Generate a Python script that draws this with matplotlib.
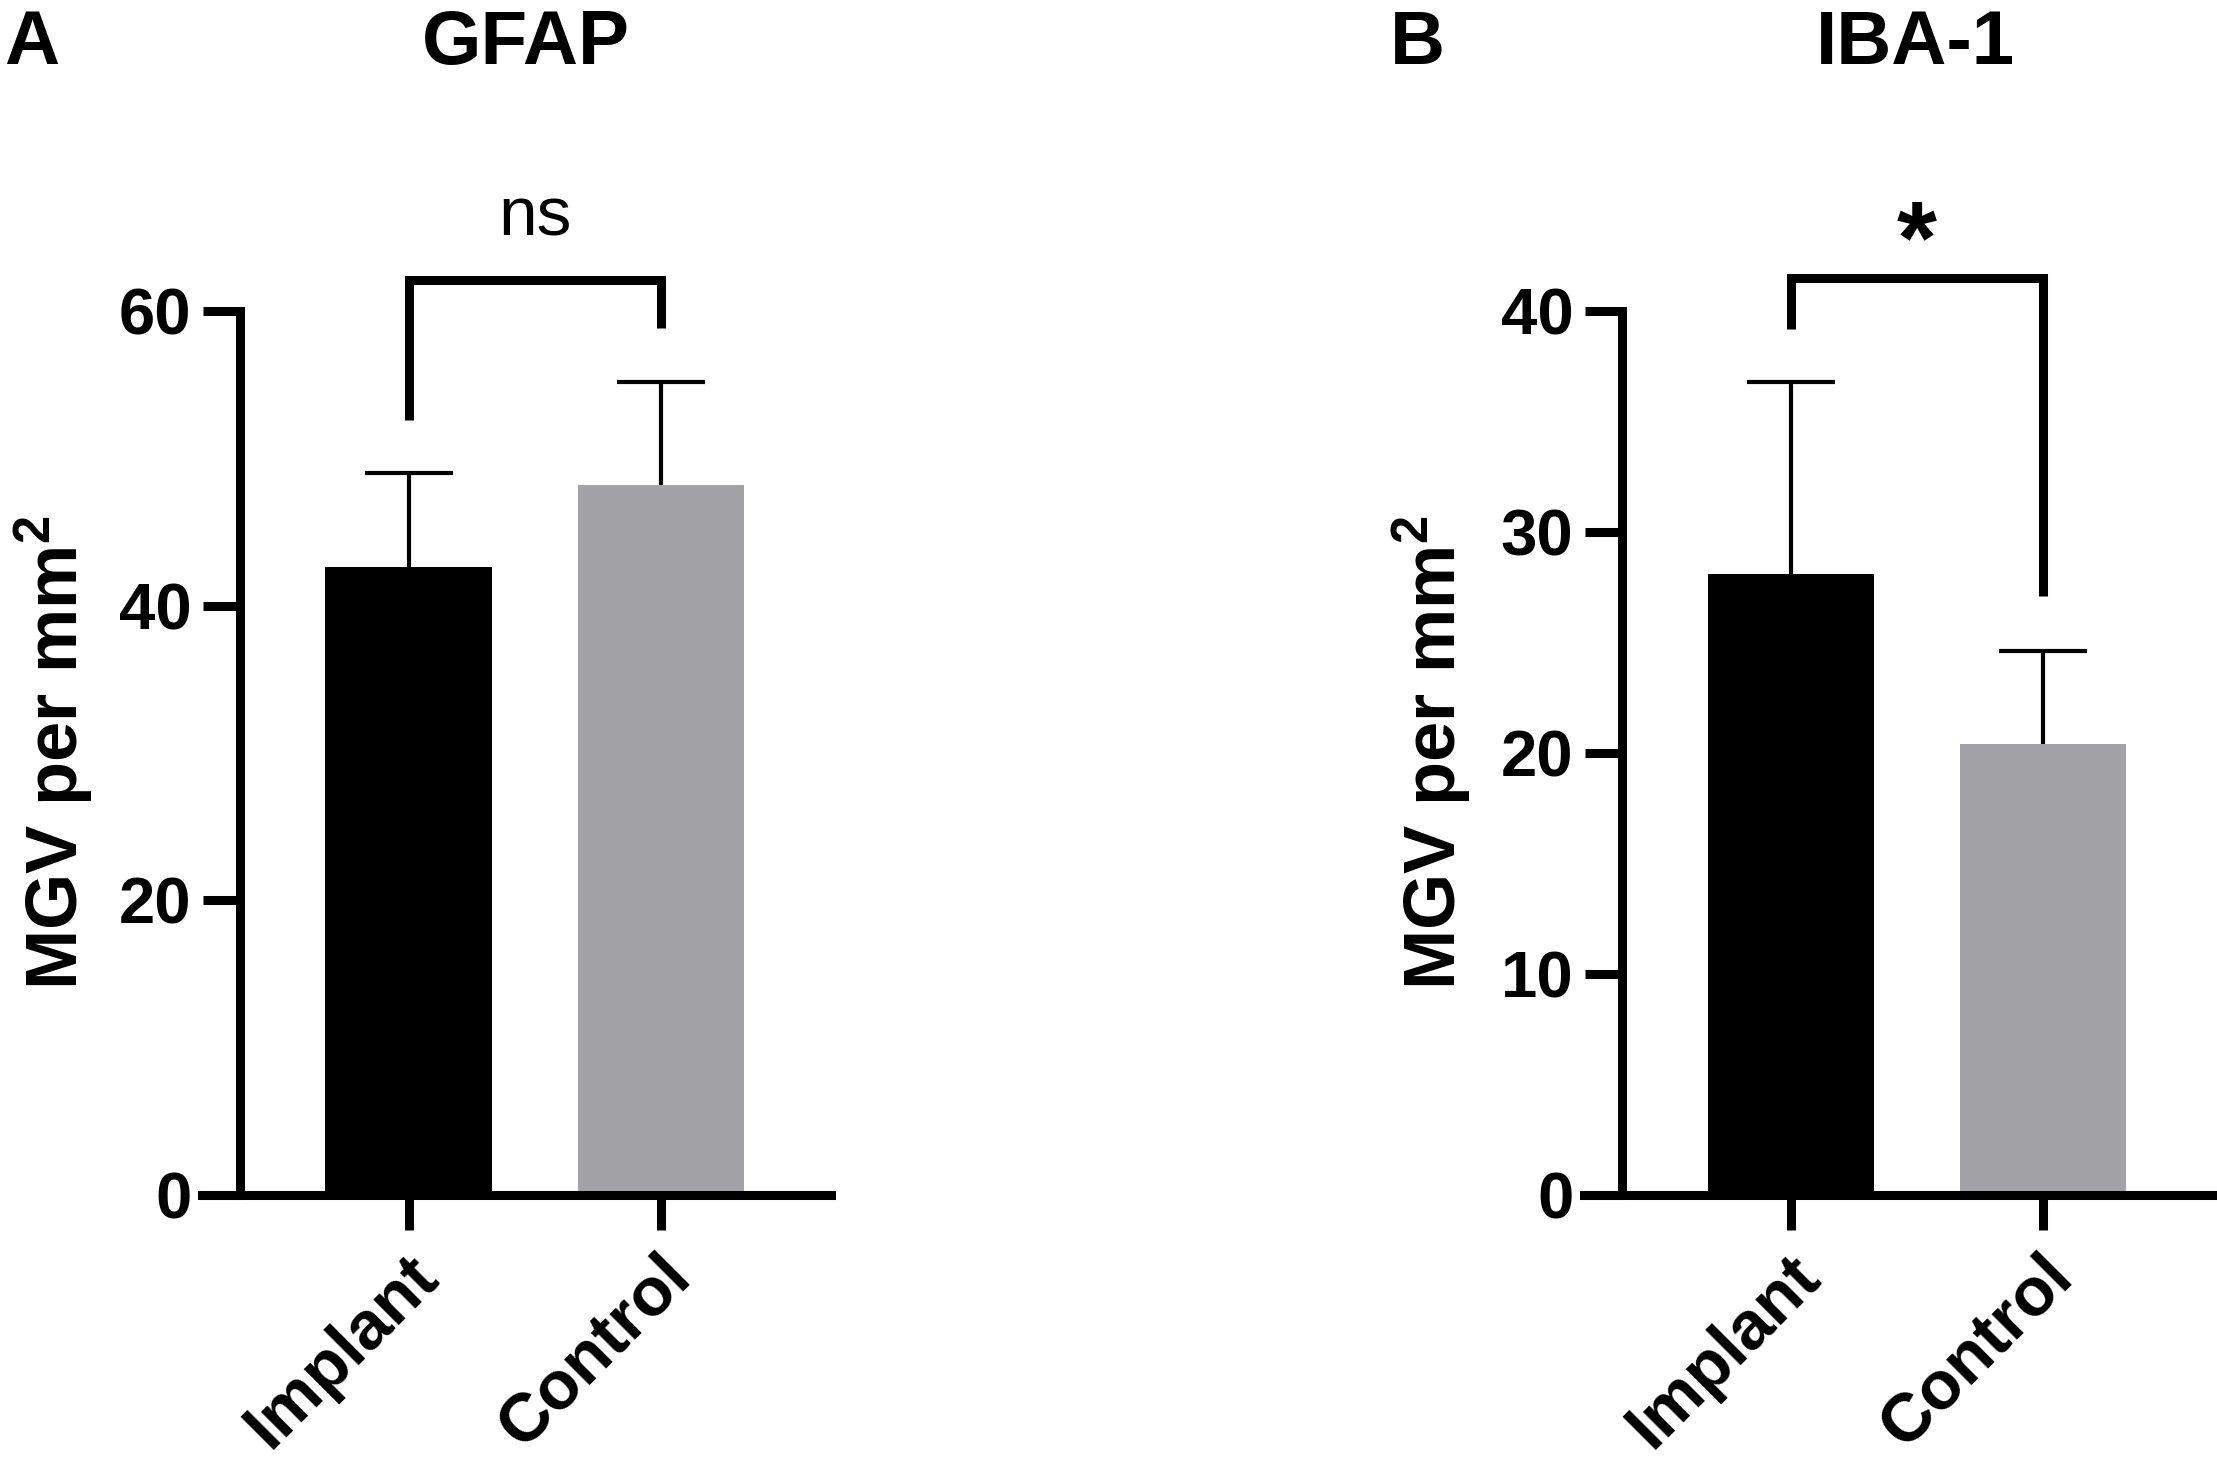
import matplotlib.pyplot as plt
import matplotlib.transforms as mtransforms

plt.rcParams['font.family'] = ['Liberation Sans', 'DejaVu Sans']
plt.rcParams['mathtext.fontset'] = 'custom'
plt.rcParams['mathtext.rm'] = 'Liberation Sans:bold'
plt.rcParams['mathtext.bf'] = 'Liberation Sans:bold'

# Values
categories = ['Implant', 'Control']
gfap_mean = [42.6, 48.2]
gfap_err = [6.4, 7.0]
iba_mean = [28.1, 20.4]
iba_err = [8.7, 4.2]

# Significance brackets: height of the bar, bottom of the two legs
gfap_bracket = 62.1
gfap_legs = [52.6, 58.85]
iba_bracket = 41.5
iba_legs = [39.2, 27.1]

bar_colors = ['black', '#a3a3a7']
LW = 6.5


def draw_panel(ax, means, errs, ymax, step, bracket, legs, sig, sig_kw):
    x = list(range(len(categories)))
    eb = ax.errorbar(x, means, yerr=[[0] * len(errs), errs], fmt='none',
                     ecolor='black', elinewidth=3, capsize=32, capthick=3,
                     zorder=1)
    # only the upper cap is wanted
    eb[1][0].set_visible(False)
    ax.bar(x, means, width=0.66, color=bar_colors, zorder=2)

    ax.set_xlim(-0.82, 1.675)
    ax.set_ylim(0, ymax)
    ax.spines['top'].set_visible(False)
    ax.spines['right'].set_visible(False)
    ax.spines['left'].set_position(('data', -0.67))
    ax.spines['left'].set_bounds(0, ymax)
    for s in ['left', 'bottom']:
        ax.spines[s].set_linewidth(LW)
        ax.spines[s].set_capstyle('projecting')

    ax.set_yticks(range(0, ymax + 1, step))
    ax.tick_params(axis='both', direction='out', length=27, width=LW,
                   labelsize=47, pad=8)
    ax.tick_params(axis='x', length=25, pad=10, labelsize=49)
    for lab in ax.get_yticklabels():
        lab.set_fontweight('bold')

    ax.set_xticks(x)
    ax.set_xticklabels(categories, rotation=45, ha='right', va='top',
                       rotation_mode='anchor', fontweight='bold')
    offset = mtransforms.ScaledTranslation(-0.03, 0.0, ax.figure.dpi_scale_trans)
    for lab in ax.get_xticklabels():
        lab.set_transform(lab.get_transform() + offset)

    # bracket
    ax.plot([0, 0, 1, 1], [legs[0], bracket, bracket, legs[1]], color='black',
            lw=LW, solid_joinstyle='miter', solid_capstyle='butt',
            clip_on=False)
    ax.text(0.5, sig_kw.pop('y'), sig, ha='center', va='baseline',
            clip_on=False, **sig_kw)


fig = plt.figure(figsize=(22.17, 14.57), dpi=100)
axA = fig.add_axes([0.0911, 0.1798, 0.2837, 0.6067])
axB = fig.add_axes([0.7145, 0.1798, 0.2837, 0.6067])

draw_panel(axA, gfap_mean, gfap_err, 60, 20, gfap_bracket, gfap_legs, 'ns',
           dict(y=65.1, fontsize=50))
draw_panel(axB, iba_mean, iba_err, 40, 10, iba_bracket, iba_legs, '*',
           dict(y=41.7, fontsize=74, fontweight='bold'))

# titles, panel letters, axis labels
fig.text(0.237, 0.956, 'GFAP', ha='center', va='baseline', fontsize=55,
         fontweight='bold')
fig.text(0.864, 0.956, 'IBA-1', ha='center', va='baseline', fontsize=55,
         fontweight='bold')
fig.text(0.002, 0.956, 'A', ha='left', va='baseline', fontsize=55,
         fontweight='bold')
fig.text(0.627, 0.956, 'B', ha='left', va='baseline', fontsize=55,
         fontweight='bold')
for xpos in [0.0244, 0.646]:
    fig.text(xpos, 0.483, r'MGV per mm$^{2}$', rotation=90, ha='center',
             va='center', fontsize=52, fontweight='bold')

fig.savefig('out.png', dpi=100)
